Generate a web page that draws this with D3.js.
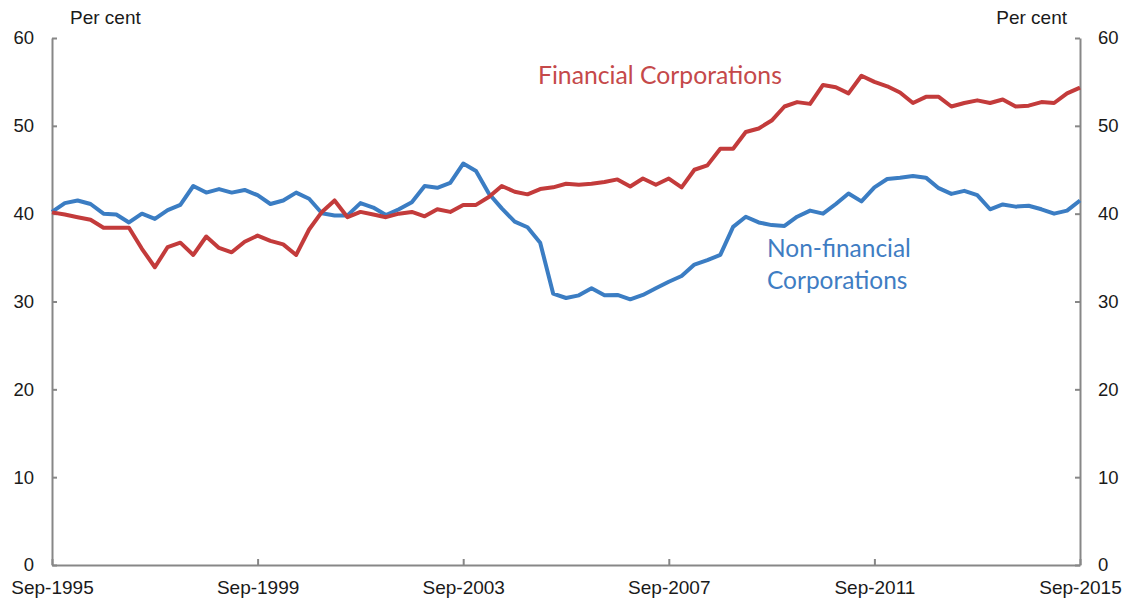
<!DOCTYPE html>
<html>
<head>
<meta charset="utf-8">
<script src="https://cdn.jsdelivr.net/npm/d3@7"></script>
<style>
  html, body { margin: 0; padding: 0; background: #ffffff; }
  svg { display: block; }
</style>
</head>
<body>
<svg id="chart" width="1127" height="601"></svg>
<script>
// ---- Data (quarterly, Sep-1995 to Sep-2015), per cent ----
const startQuarter = "1995-09";
const financial = [
  40.15, 39.9, 39.6, 39.3, 38.4, 38.4, 38.4, 36.0, 33.9, 36.2,
  36.7, 35.3, 37.4, 36.1, 35.6, 36.8, 37.5, 36.9, 36.5, 35.3,
  38.2, 40.2, 41.5, 39.6, 40.2, 39.9, 39.6, 40.0, 40.2, 39.7,
  40.5, 40.2, 41.0, 41.0, 41.9, 43.15, 42.5, 42.2, 42.8, 43.0,
  43.4, 43.3, 43.4, 43.6, 43.9, 43.1, 44.0, 43.3, 44.0, 43.0,
  45.0, 45.5, 47.4, 47.4, 49.3, 49.7, 50.6, 52.2, 52.7, 52.5,
  54.65, 54.4, 53.7, 55.7, 55.0, 54.5, 53.8, 52.6, 53.3, 53.3,
  52.2, 52.6, 52.9, 52.6, 53.0, 52.2, 52.3, 52.7, 52.6, 53.7,
  54.35
];
const nonFinancial = [
  40.2, 41.2, 41.5, 41.1, 40.0, 39.9, 39.0, 40.0, 39.4, 40.4,
  41.0, 43.15, 42.4, 42.8, 42.4, 42.7, 42.1, 41.1, 41.5, 42.4,
  41.7, 40.05, 39.8, 39.8, 41.2, 40.7, 39.85, 40.5, 41.3, 43.15,
  42.95, 43.5, 45.7, 44.85, 42.3, 40.6, 39.1, 38.45, 36.7, 30.9,
  30.4, 30.7, 31.5, 30.7, 30.75, 30.25, 30.75, 31.5, 32.25, 32.9,
  34.2, 34.7, 35.3, 38.5, 39.65, 39.0, 38.7, 38.6, 39.65, 40.35,
  40.0, 41.1, 42.3, 41.4, 43.0, 43.95, 44.1, 44.3, 44.1, 42.9,
  42.25, 42.6, 42.1, 40.5, 41.05, 40.8, 40.9, 40.5, 40.0, 40.35,
  41.5
];
const xTickLabels = ["Sep-1995", "Sep-1999", "Sep-2003", "Sep-2007", "Sep-2011", "Sep-2015"];
const yTicks = [0, 10, 20, 30, 40, 50, 60];
const seriesNames = ["Financial Corporations", "Non-financial Corporations"];

// ---- Layout ----
const svg = d3.select("#chart");
const margin = { left: 52, right: 1080, top: 38, bottom: 565 };
const axisColor = "#878787";
const redLine = "#C33B3B";
const blueLine = "#3B7DC3";
const redText = "#C5494A";
const blueText = "#3F7DC3";
const axisFont = "'Liberation Sans', Arial, sans-serif";

const parseQ = d3.timeParse("%Y-%m");
const t0 = parseQ(startQuarter);
const dates = financial.map((_, i) => d3.timeMonth.offset(t0, 3 * i));
const t1 = dates[dates.length - 1];

const x = d3.scaleTime().domain([t0, t1]).range([margin.left, margin.right]);
const y = d3.scaleLinear().domain([0, 60]).range([margin.bottom, margin.top]);

const fmt = d3.timeFormat("%b-%Y");
const tickDates = xTickLabels.map(s => d3.timeParse("%b-%Y")(s));

// Axes
const gx = svg.append("g").attr("transform", `translate(0,${margin.bottom})`)
  .call(d3.axisBottom(x).tickValues(tickDates).tickFormat(fmt).tickSizeInner(-6).tickSizeOuter(0));
const gl = svg.append("g").attr("transform", `translate(${margin.left},0)`)
  .call(d3.axisLeft(y).tickValues(yTicks).tickSizeInner(-5).tickSizeOuter(0));
const gr = svg.append("g").attr("transform", `translate(${margin.right},0)`)
  .call(d3.axisRight(y).tickValues(yTicks).tickSizeInner(-5).tickSizeOuter(0));

[gx, gl, gr].forEach(g => {
  g.select(".domain").attr("stroke", axisColor).attr("stroke-width", 2);
  g.selectAll(".tick line").attr("stroke", axisColor).attr("stroke-width", 2);
  g.selectAll(".tick text").attr("fill", "#1a1a1a")
    .style("font-family", axisFont);
});
gx.selectAll(".tick text").style("font-size", "19px").attr("dy", 0).attr("y", 29);
gl.selectAll(".tick text").style("font-size", "18.5px").attr("x", -18);
gr.selectAll(".tick text").style("font-size", "18.5px").attr("x", 18);

// Unit labels
svg.append("text").attr("x", 70).attr("y", 24).text("Per cent")
  .style("font-family", axisFont).style("font-size", "19px").attr("fill", "#1a1a1a");
svg.append("text").attr("x", 1067).attr("y", 24).attr("text-anchor", "end").text("Per cent")
  .style("font-family", axisFont).style("font-size", "19px").attr("fill", "#1a1a1a");

// Lines
const line = d3.line().x((d, i) => x(dates[i])).y(d => y(d));
svg.append("path").datum(nonFinancial).attr("d", line)
  .attr("fill", "none").attr("stroke", blueLine).attr("stroke-width", 4).attr("stroke-linejoin", "round");
svg.append("path").datum(financial).attr("d", line)
  .attr("fill", "none").attr("stroke", redLine).attr("stroke-width", 4).attr("stroke-linejoin", "round");

// Series labels
const labelFont = "Lato, 'Open Sans', sans-serif";
function fitText(sel, width) {
  const w = sel.node().getComputedTextLength();
  const fs = parseFloat(sel.style("font-size"));
  sel.style("font-size", (fs * width / w) + "px");
}
const fl = svg.append("text").attr("x", 538).attr("y", 84).text(seriesNames[0])
  .attr("fill", redText).style("font-family", labelFont).style("font-size", "25px");
fitText(fl, 244);
const nl1 = svg.append("text").attr("x", 767).attr("y", 257).text("Non-financial")
  .attr("fill", blueText).style("font-family", labelFont).style("font-size", "25px");
fitText(nl1, 144);
const nl2 = svg.append("text").attr("x", 767).attr("y", 289).text("Corporations")
  .attr("fill", blueText).style("font-family", labelFont).style("font-size", nl1.style("font-size"));
</script>
</body>
</html>
